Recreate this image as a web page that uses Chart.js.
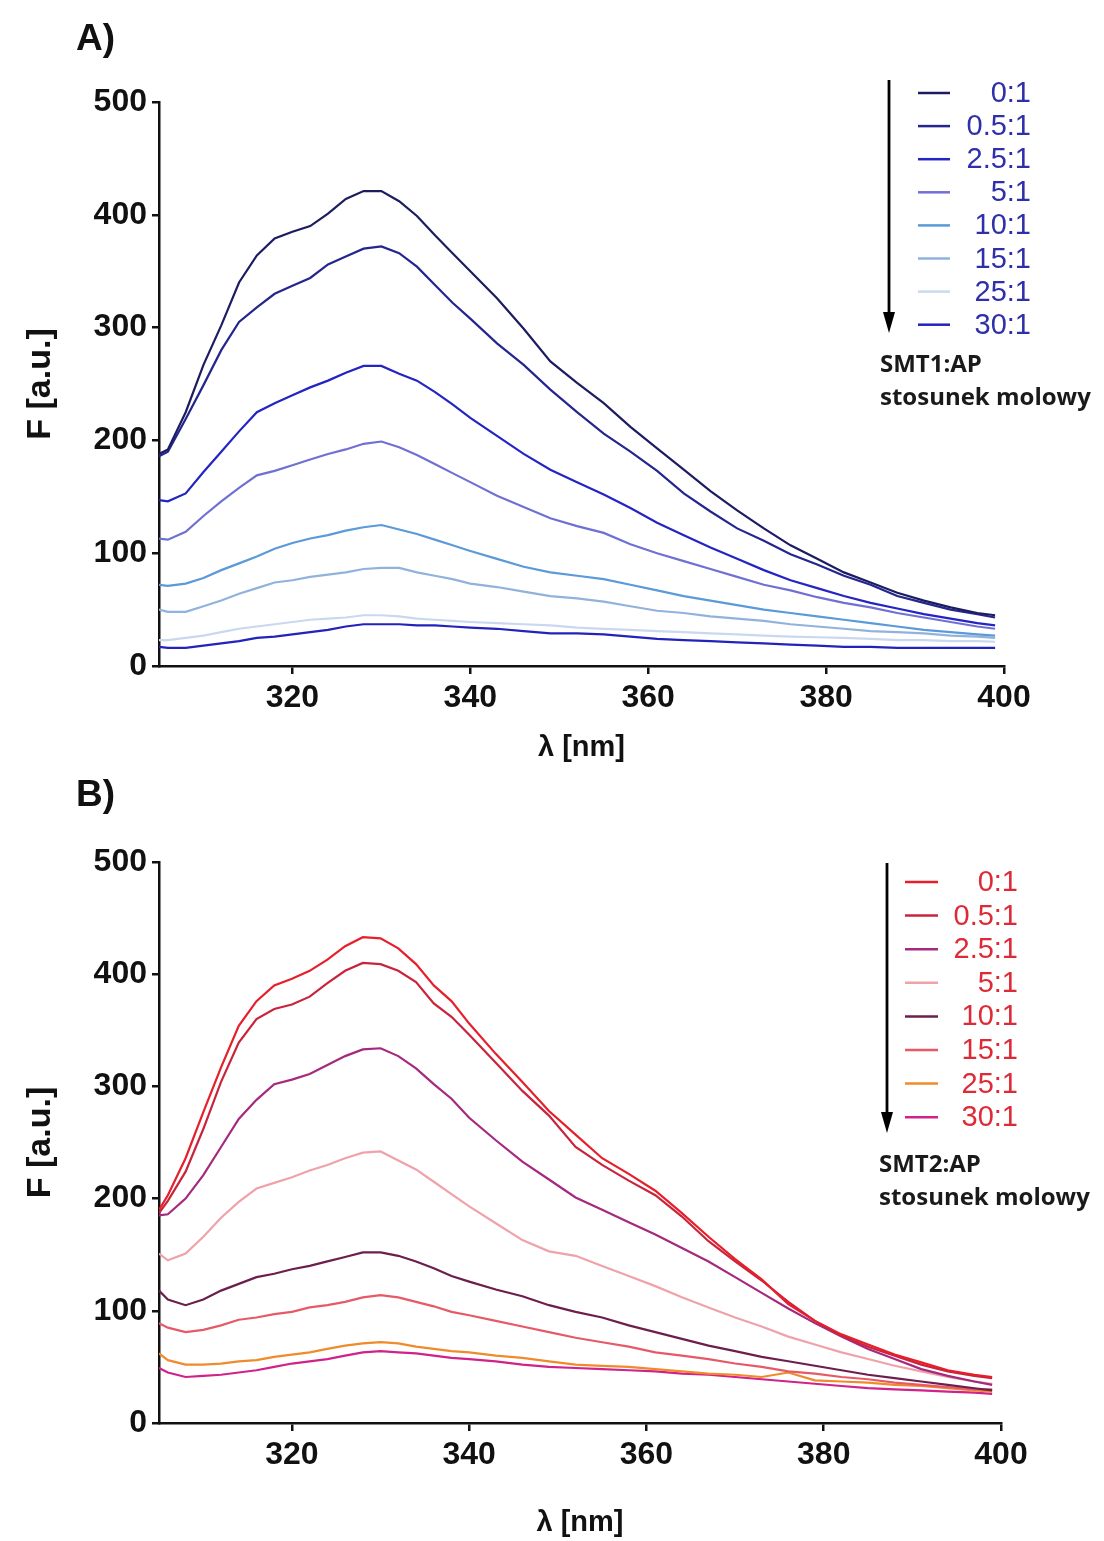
<!DOCTYPE html>
<html><head><meta charset="utf-8">
<script src="https://cdn.jsdelivr.net/npm/chart.js@4/dist/chart.umd.min.js"></script>
<style>
html,body{margin:0;padding:0;background:#fff;}
#wrap{position:relative;width:1104px;height:1541px;overflow:hidden;}
canvas{position:absolute;left:0;}
</style></head><body>
<div id="wrap">
<canvas id="cA" width="1104" height="780" style="top:0px"></canvas>
<canvas id="cB" width="1104" height="781" style="top:760px"></canvas>
</div>
<script>
// ---------- data ----------
const wavelengths = [305,306,308,310,312,314,316,318,320,322,324,326,328,330,332,334,336,338,340,343,346,349,352,355,358,361,364,367,370,373,376,379,382,385,388,391,394,397,399];
const ratioLabels = ['0:1','0.5:1','2.5:1','5:1','10:1','15:1','25:1','30:1'];
const xTicks = [320,340,360,380,400];
const yTicks = [0,100,200,300,400,500];
const xTitle = 'λ [nm]';
const yTitle = 'F [a.u.]';
const noteA = ['SMT1:AP','stosunek molowy'];
const noteB = ['SMT2:AP','stosunek molowy'];

// Panel A: SMT1:AP
const smt1_0   = [188,192,225,267,302,340,364,379,385,390,401,414,421,421,412,399,382,366,350,326,299,270,251,233,212,193,174,155,138,122,107,95,83,74,65,58,52,47,45];
const smt1_05  = [186,190,219,249,280,305,318,330,337,344,356,363,370,372,366,354,338,322,308,286,267,245,225,206,190,173,153,137,122,111,99,90,80,72,62,56,50,46,43];
const smt1_25  = [147,146,153,172,190,208,225,233,240,247,253,260,266,266,259,253,243,232,220,204,188,174,163,152,140,127,116,105,95,85,76,69,62,56,51,46,42,38,36];
const smt1_5   = [113,112,119,133,146,158,169,173,178,183,188,192,197,199,194,187,179,171,163,151,141,131,124,118,108,100,93,86,79,72,67,61,56,52,47,43,39,35,33];
const smt1_10  = [72,71,73,78,85,91,97,104,109,113,116,120,123,125,121,117,112,107,102,95,88,83,80,77,72,67,62,58,54,50,47,44,41,38,35,32,30,28,27];
const smt1_15  = [50,48,48,53,58,64,69,74,76,79,81,83,86,87,87,83,80,77,73,70,66,62,60,57,53,49,47,44,42,40,37,35,33,31,30,29,27,26,25];
const smt1_25b = [23,23,25,27,30,33,35,37,39,41,42,43,45,45,44,42,41,40,39,38,37,36,34,33,32,31,30,29,28,27,26,25.5,25,24,23,23,22,22,21.5];
const smt1_30  = [17,16,16,18,20,22,25,26,28,30,32,35,37,37,37,36,36,35,34,33,31,29,29,28,26,24,23,22,21,20,19,18,17,17,16,16,16,16,16];

// Panel B: SMT2:AP
const smt2_0   = [190,203,236,277,317,354,376,390,396,403,413,425,433,432,423,409,390,376,356,329,304,278,257,236,222,207,187,166,146,128,106,91,79,70,61,54,47,43,41];
const smt2_05  = [187,198,224,262,304,339,360,369,373,380,392,403,410,409,403,393,374,362,346,321,296,274,246,230,216,203,184,162,144,127,108,91,78,68,60,52,46,42,40];
const smt2_25  = [185,186,200,221,246,271,288,302,306,311,319,327,333,334,327,316,302,289,272,252,233,217,201,190,179,168,156,144,130,116,102,89,77,66,57,48,42,37,34];
const smt2_5   = [151,145,151,166,183,197,209,214,219,225,230,236,241,242,234,226,215,204,193,178,163,153,149,140,131,122,112,103,94,86,77,70,63,57,51,46,41,37,35];
const smt2_10  = [118,110,105,110,118,124,130,133,137,140,144,148,152,152,149,144,138,131,126,119,113,105,99,94,87,81,75,69,64,59,55,51,47,43,40,37,34,31,29];
const smt2_15  = [89,85,81,83,87,92,94,97,99,103,105,108,112,114,112,108,104,99,96,91,86,81,76,72,68,63,60,57,53,50,46,44,41,39,36,34,32,30,30];
const smt2_25b = [62,56,52,52,53,55,56,59,61,63,66,69,71,72,71,68,66,64,63,60,58,55,52,51,50,48,46,44,43,41,45,38,37,36,34,33,31,29,28];
const smt2_30  = [49,45,41,42,43,45,47,50,53,55,57,60,63,64,63,62,60,58,57,55,52,50,49,48,47,46,44,43,41,39,37,35,33,31,30,29,28,27,26];

// ---------- styles ----------
const colorsA = ['#1c1c60','#25258f','#2424c4','#7070d4','#5b9ad8','#90b2dc','#cad8ef','#2222bc'];
const colorsB = ['#e61f2a','#c8243c','#a5297c','#f0a2aa','#6c1f4c','#e65a68','#f08a2a','#d0228a'];
const FONT = '"Liberation Sans", Arial, Helvetica, sans-serif';

function panelPlugin(cfg){
  return {
    id:'panel'+cfg.tag,
    afterDraw(chart){
      const ctx = chart.ctx;
      ctx.save();
      ctx.fillStyle = '#111';
      ctx.font = 'bold 37px ' + FONT;
      ctx.textAlign = 'left'; ctx.textBaseline = 'alphabetic';
      ctx.fillText(cfg.tag, cfg.tagX, cfg.tagY);
      // arrow
      ctx.strokeStyle = '#000'; ctx.fillStyle = '#000'; ctx.lineWidth = 2.8;
      ctx.beginPath(); ctx.moveTo(cfg.arrowX, cfg.arrowTop); ctx.lineTo(cfg.arrowX, cfg.arrowBottom - 16); ctx.stroke();
      ctx.beginPath();
      ctx.moveTo(cfg.arrowX - 6, cfg.arrowBottom - 21);
      ctx.lineTo(cfg.arrowX + 6, cfg.arrowBottom - 21);
      ctx.lineTo(cfg.arrowX, cfg.arrowBottom);
      ctx.closePath(); ctx.fill();
      // legend
      chart.data.datasets.forEach((ds, i) => {
        const y = cfg.rowTop + i * cfg.rowStep;
        ctx.strokeStyle = ds.borderColor; ctx.lineWidth = 2.5;
        ctx.beginPath(); ctx.moveTo(cfg.lineX0, y); ctx.lineTo(cfg.lineX1, y); ctx.stroke();
        ctx.fillStyle = cfg.textColor;
        ctx.font = '29px ' + FONT;
        ctx.textAlign = 'right'; ctx.textBaseline = 'middle';
        ctx.fillText(ds.label, cfg.textRight, y + 1);
      });
      // note
      ctx.fillStyle = '#1a1a1a';
      ctx.font = 'bold 24px "Open Sans", ' + FONT;
      ctx.textAlign = 'left'; ctx.textBaseline = 'alphabetic';
      ctx.fillText(cfg.note[0], cfg.noteX, cfg.noteY1);
      ctx.fillText(cfg.note[1], cfg.noteX, cfg.noteY2);
      ctx.restore();
    }
  };
}

function makeChart(id, series, colors, lay, cfg){
  return new Chart(document.getElementById(id), {
    type:'line',
    data:{
      datasets: series.map((s, i) => ({
        label: ratioLabels[i],
        data: wavelengths.map((w, j) => ({x: w, y: s[j]})),
        borderColor: colors[i],
        borderWidth: 2.2,
        pointRadius: 0,
        tension: 0,
        fill: false
      }))
    },
    options:{
      responsive:false, animation:false, devicePixelRatio:1,
      layout:{padding:{left:0, right:lay.right, top:lay.top, bottom:0}},
      plugins:{legend:{display:false}, tooltip:{enabled:false}, title:{display:false}},
      scales:{
        x:{
          type:'linear', min:305, max:400,
          afterBuildTicks: s => { s.ticks = xTicks.map(v => ({value:v})); },
          afterFit: s => { s.height = lay.xh; },
          grid:{display:true, drawOnChartArea:false, drawTicks:true, tickLength:8, color:'#111', lineWidth:2.5},
          border:{display:true, color:'#111', width:2.5},
          ticks:{color:'#111', font:{family:FONT, size:32, weight:'bold'}, padding:5, maxRotation:0, autoSkip:false},
          title:{display:true, text:xTitle, color:'#111', font:{family:FONT, size:29, weight:'bold'}, padding:{top:0, bottom:lay.xtb}}
        },
        y:{
          type:'linear', min:0, max:500,
          afterBuildTicks: s => { s.ticks = yTicks.map(v => ({value:v})); },
          afterFit: s => { s.width = 159; },
          grid:{display:true, drawOnChartArea:false, drawTicks:true, tickLength:7, color:'#111', lineWidth:2.5},
          border:{display:true, color:'#111', width:2.5},
          ticks:{color:'#111', font:{family:FONT, size:32, weight:'bold'}, padding:5},
          title:{display:true, text:yTitle, color:'#111', font:{family:FONT, size:34, weight:'bold'}, padding:{top:20, bottom:0}}
        }
      }
    },
    plugins:[panelPlugin(cfg)]
  });
}

makeChart('cA',
  [smt1_0, smt1_05, smt1_25, smt1_5, smt1_10, smt1_15, smt1_25b, smt1_30],
  colorsA,
  {right:100, top:102, xh:114, xtb:15},
  {tag:'A)', tagX:76, tagY:50, arrowX:889, arrowTop:80, arrowBottom:333,
   rowTop:93, rowStep:33.1, lineX0:918, lineX1:950, textRight:1031, textColor:'#2f2faa',
   note:noteA, noteX:880, noteY1:372, noteY2:405});

makeChart('cB',
  [smt2_0, smt2_05, smt2_25, smt2_5, smt2_10, smt2_15, smt2_25b, smt2_30],
  colorsB,
  {right:103, top:102, xh:118, xtb:1},
  {tag:'B)', tagX:76, tagY:46, arrowX:887, arrowTop:103, arrowBottom:373,
   rowTop:122, rowStep:33.6, lineX0:905, lineX1:938, textRight:1018, textColor:'#de2a36',
   note:noteB, noteX:879, noteY1:412, noteY2:445});
</script>
</body></html>
